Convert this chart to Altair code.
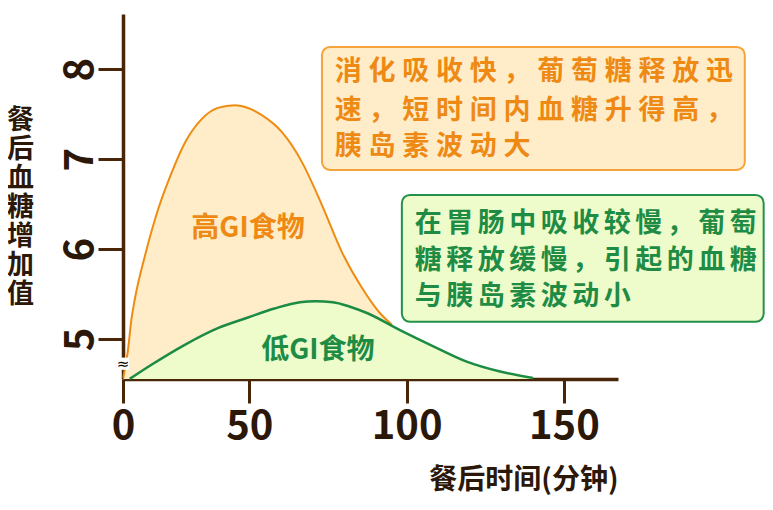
import altair as alt
import pandas as pd

# ---- axis extents (data units) ----
X_MIN, X_MAX = 9.86, 167.2
Y_MIN, Y_MAX = 4.556, 8.614
x_ticks = [X_MIN, 50, 100, 150]
y_ticks = [5, 6, 7, 8]

# ---- series ----
high_x = [10.0, 10.4, 11.45, 12.5, 13.6, 16.8, 21.0, 25.2, 29.5, 34.7, 40.0, 45.4, 54.0, 60.4, 66.7, 73.1, 79.4, 85.8, 91.5, 95.3]
high_y = [4.57, 4.66, 4.88, 5.21, 5.44, 5.92, 6.44, 6.84, 7.18, 7.44, 7.57, 7.60, 7.49, 7.30, 6.97, 6.49, 5.97, 5.57, 5.29, 5.16]

low_x = [12.0, 18.9, 29.5, 40.0, 49.6, 58.0, 66.1, 71.0, 76.6, 82.0, 87.4, 97.9, 108.5, 119.1, 129.7, 140.2]
low_y = [4.557, 4.714, 4.936, 5.121, 5.24, 5.34, 5.41, 5.42, 5.41, 5.36, 5.29, 5.10, 4.92, 4.75, 4.64, 4.567]

# ---- texts ----
high_label = "高GI食物"
low_label = "低GI食物"
high_note = ["消化吸收快，葡萄糖释放迅", "速，短时间内血糖升得高，", "胰岛素波动大"]
low_note = ["在胃肠中吸收较慢，葡萄", "糖释放缓慢，引起的血糖", "与胰岛素波动小"]
x_title = "餐后时间(分钟)"
y_title = "餐后血糖增加值"

FONT = "Noto Sans CJK SC"
AXIS_C = "#4A2608"
LABEL_C = "#2B1808"
OR_LINE, OR_FILL, OR_TEXT, OR_BOX = "#EE8C12", "#FFEDC9", "#EE8A14", "#F6A33A"
GR_LINE, GR_FILL, GR_TEXT, GR_BOX = "#1C8B44", "#EEFCCB", "#1F8C45", "#23914A"

def spaced(s, sp):
    return sp.join(list(s))

high_df = pd.DataFrame({"t": high_x, "g": high_y})
low_df = pd.DataFrame({"t": low_x, "g": low_y})

xs = alt.Scale(domain=[X_MIN, X_MAX], nice=False, zero=False)
ys = alt.Scale(domain=[Y_MIN, Y_MAX], nice=False, zero=False)

x_axis = alt.Axis(
    values=x_ticks, labelExpr="datum.value < 20 ? '0' : datum.label",
    grid=False, domainColor=AXIS_C, domainWidth=3.5, tickColor=AXIS_C, tickWidth=3,
    tickSize=24, labelFont=FONT, labelFontSize=40, labelFontWeight="bold",
    labelColor=LABEL_C, labelPadding=3, labelFlush=False, labelOverlap=False,
    title=x_title, titleFont=FONT, titleFontSize=28, titleFontWeight="bold",
    titleColor=LABEL_C, titleAlign="right", titleAnchor="end", titleX=495, titleY=101,
    titleBaseline="middle",
)
y_axis = alt.Axis(
    values=y_ticks, format="d", grid=False, domainColor=AXIS_C, domainWidth=3.5, tickColor=AXIS_C,
    tickWidth=3, tickSize=25, labelFont=FONT, labelFontSize=40, labelFontWeight="bold",
    labelColor=LABEL_C, labelAngle=270, labelAlign="center", labelBaseline="alphabetic",
    labelPadding=6, labelFlush=False, labelOverlap=False,
    title=list(y_title), titleAngle=0, titleX=-103, titleY=93, titleBaseline="top",
    titleAlign="center", titleFont=FONT, titleFontSize=27, titleFontWeight="bold",
    titleColor=LABEL_C, titleLineHeight=29,
)

X = alt.X("t:Q", scale=xs, axis=x_axis)
Y = alt.Y("g:Q", scale=ys, axis=y_axis)

high_area = alt.Chart(high_df).mark_area(color=OR_FILL, interpolate="monotone").encode(
    x=X, y=Y, y2=alt.Y2(datum=Y_MIN))
high_line = alt.Chart(high_df).mark_line(color=OR_LINE, strokeWidth=2, interpolate="monotone").encode(
    x="t:Q", y="g:Q")
low_area = alt.Chart(low_df).mark_area(color=GR_FILL, interpolate="monotone").encode(
    x="t:Q", y="g:Q", y2=alt.Y2(datum=Y_MIN))
low_line = alt.Chart(low_df).mark_line(color=GR_LINE, strokeWidth=2.5, interpolate="monotone").encode(
    x="t:Q", y="g:Q")

# curve labels
lab_df = pd.DataFrame({"t": [49.6, 71.8], "g": [6.22, 4.87], "s": [high_label, low_label],
                       "c": [OR_TEXT, GR_TEXT]})
labels = alt.Chart(lab_df).mark_text(font=FONT, fontSize=28, fontWeight="bold",
                                     align="center", baseline="middle").encode(
    x="t:Q", y="g:Q", text="s:N", color=alt.Color("c:N", scale=None))

# annotation boxes
box_df = pd.DataFrame({"x1": [73.1, 98.5], "x2": [207.5, 213.5], "y1": [8.248, 6.603],
                       "y2": [6.881, 5.192], "f": [OR_FILL, GR_FILL], "s": [OR_BOX, GR_BOX]})
boxes = alt.Chart(box_df).mark_rect(cornerRadius=8, strokeWidth=2).encode(
    x="x1:Q", x2="x2:Q", y="y1:Q", y2="y2:Q",
    fill=alt.Fill("f:N", scale=None), stroke=alt.Stroke("s:N", scale=None))

SP_OR = "\u2005"
SP_GR = "\u2006"
note_x = [77.2] * 3 + [102.6] * 3
note_y = [7.964, 7.539, 7.131, 6.281, 5.872, 5.464]
note_df = pd.DataFrame({
    "t": note_x, "g": note_y,
    "s": [spaced(l, SP_OR) for l in high_note] + [spaced(l, SP_GR) for l in low_note],
    "c": [OR_TEXT] * 3 + [GR_TEXT] * 3})
notes = alt.Chart(note_df).mark_text(font=FONT, fontSize=27, fontWeight="bold", align="left",
                                     baseline="middle").encode(
    x="t:Q", y="g:Q", text="s:N", color=alt.Color("c:N", scale=None))

# axis break marker
brk_df = pd.DataFrame({"t": [X_MIN], "g": [4.726], "s": ["≈"]})
brk_bg = alt.Chart(brk_df).mark_square(size=150, color="white", opacity=1, filled=True).encode(
    x="t:Q", y="g:Q")
brk = alt.Chart(brk_df).mark_text(font="DejaVu Sans", fontSize=15, color="black",
                                  align="center", baseline="middle").encode(
    x="t:Q", y="g:Q", text="s:N")

chart = alt.layer(high_area, high_line, low_area, low_line, labels, boxes, notes, brk_bg, brk).properties(
    width=495, height=365,
    background="white",
    autosize=alt.AutoSizeParams(type="none"),
    padding={"left": 115, "top": 6, "right": 147, "bottom": 123},
).configure_view(stroke=None)

chart.save("out.html", embed_options={"renderer": "svg", "actions": False})
